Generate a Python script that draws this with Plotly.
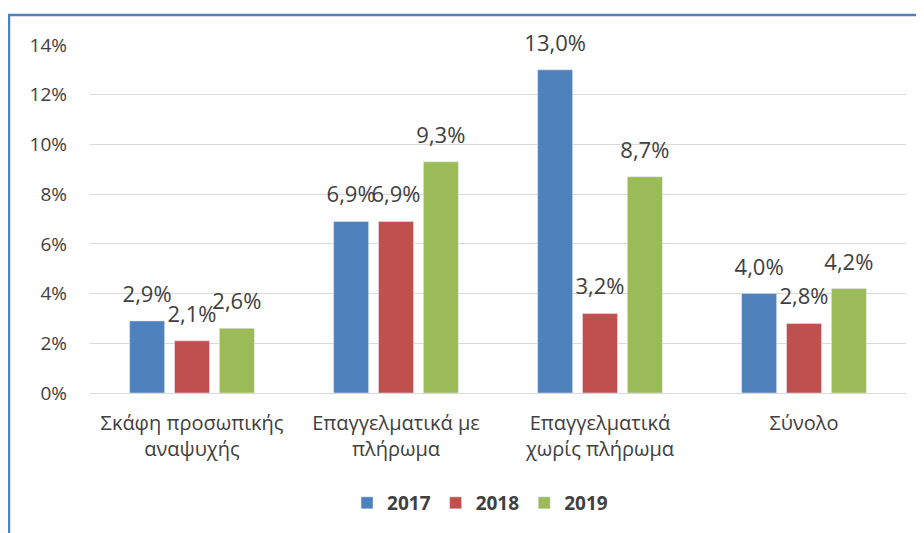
import plotly.graph_objects as go

categories = ['Σκάφη προσωπικής<br>αναψυχής', 'Επαγγελματικά με<br>πλήρωμα',
              'Επαγγελματικά<br>χωρίς πλήρωμα', 'Σύνολο']
years = ['2017', '2018', '2019']
values_2017 = [0.029, 0.069, 0.130, 0.040]
values_2018 = [0.021, 0.069, 0.032, 0.028]
values_2019 = [0.026, 0.093, 0.087, 0.042]
y_ticks = [0, 0.02, 0.04, 0.06, 0.08, 0.10, 0.12, 0.14]

colors = ['#4f81bd', '#c0504d', '#9bbb59']
FONT = 'Open Sans, sans-serif'

fig = go.Figure()
for year, vals, col in zip(years, [values_2017, values_2018, values_2019], colors):
    fig.add_trace(go.Bar(name=year, x=categories, y=vals, marker=dict(color=col),
                         offsetgroup=year, hoverinfo='skip'))
# data labels as text points, grouped like the bars so they sit above each bar
for year, vals in zip(years, [values_2017, values_2018, values_2019]):
    fig.add_trace(go.Scatter(x=categories, y=vals, mode='markers+text', offsetgroup=year,
                             texttemplate='%{y:.1%}', textposition='top center',
                             marker=dict(size=20, color='rgba(0,0,0,0)'),
                             textfont=dict(size=22, color='#404040', family=FONT),
                             showlegend=False, cliponaxis=False))

fig.update_layout(
    width=924, height=533,
    margin=dict(l=82, r=26, t=37, b=148),
    plot_bgcolor='white', paper_bgcolor='white',
    separators=',.',
    barmode='group', bargap=0.34, bargroupgap=0.22,
    scattermode='group', scattergap=0.34,
    font=dict(family=FONT, size=19, color='#404040'),
    showlegend=True,
    legend=dict(orientation='h', x=0.478, xanchor='center', y=-0.316, yanchor='middle',
                font=dict(size=19, color='#404040', family=FONT, weight='bold'),
                itemwidth=30),
    shapes=[dict(type='rect', xref='paper', yref='paper', x0=-0.0993, x1=1.2, y0=-0.6, y1=1.086,
                 line=dict(color='#4f81bd', width=2.5), fillcolor='rgba(0,0,0,0)', layer='below')],
)
fig.update_xaxes(showline=True, linecolor='#d9d9d9', linewidth=1, ticks='',
                 tickfont=dict(size=20), ticklabelstandoff=12)
fig.update_yaxes(range=[0, 0.14], tickvals=y_ticks, tickformat='.0%', showgrid=True,
                 gridcolor='#d9d9d9', gridwidth=1, zeroline=False, ticks='',
                 tickfont=dict(size=19), ticklabelstandoff=22)

fig.write_html('out.html')
